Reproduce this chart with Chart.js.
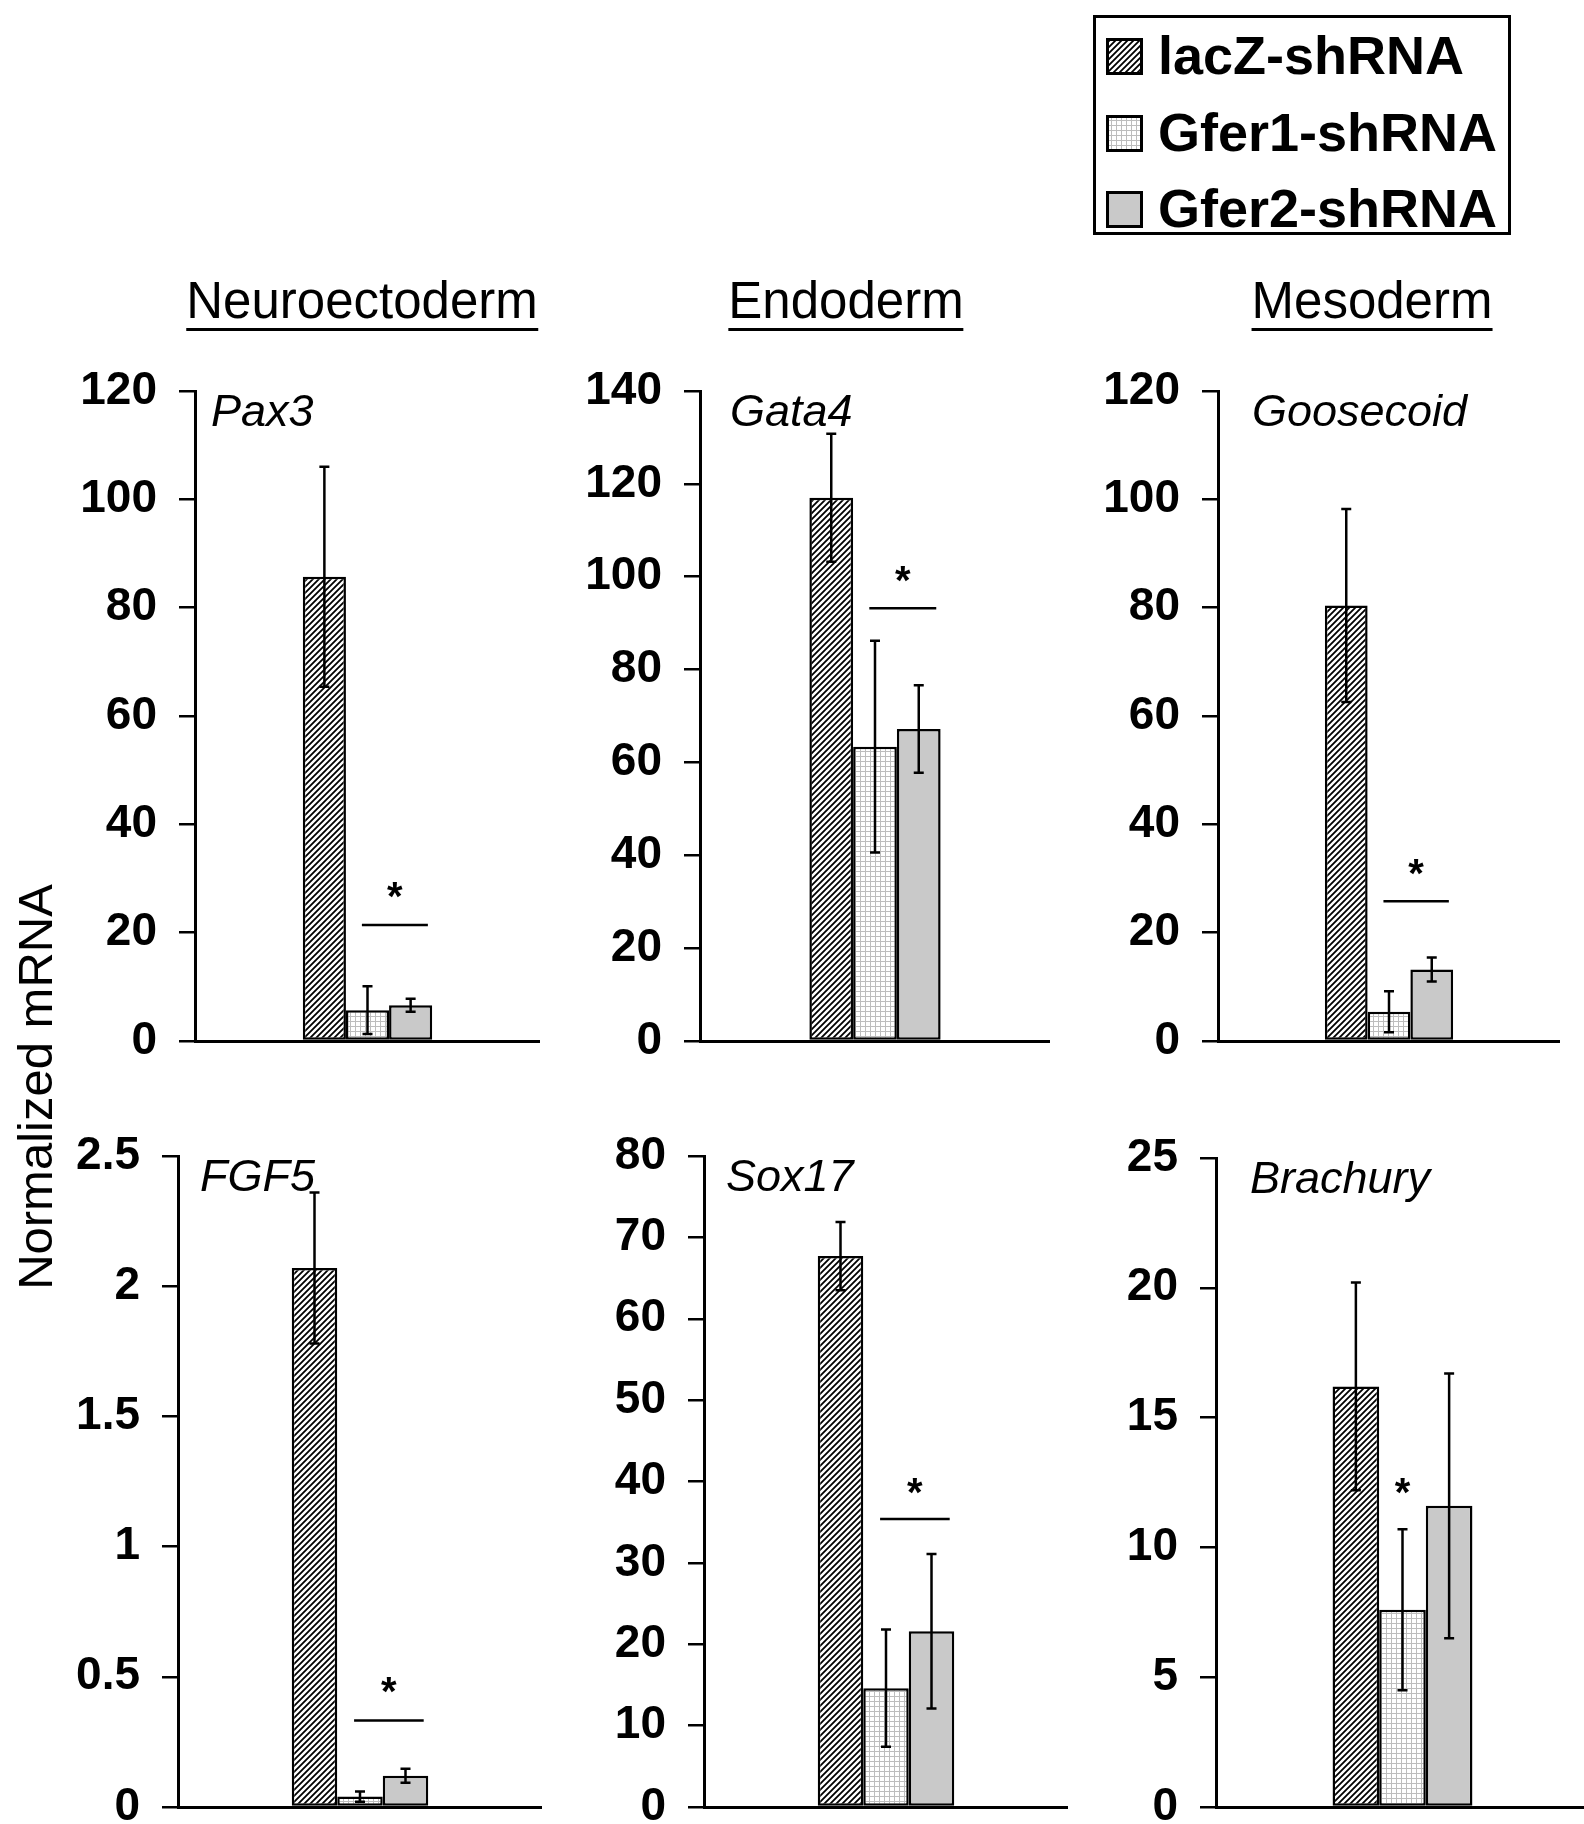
<!DOCTYPE html>
<html>
<head>
<meta charset="utf-8">
<script src="https://cdn.jsdelivr.net/npm/chart.js@4.4.0/dist/chart.umd.min.js"></script>
<style>
  html, body { margin: 0; padding: 0; background: #fff; overflow: hidden; }
  body { width: 1584px; height: 1824px; position: relative; font-family: "Liberation Sans", Arial, sans-serif; color: #000; }
  canvas.panel { position: absolute; }
  .col-title { position: absolute; font-size: 51px; line-height: 1; white-space: nowrap; transform: translateX(-50%); border-bottom: 3.5px solid #000; padding-bottom: 2px; }
  .ytitle { position: absolute; font-size: 49px; line-height: 1; white-space: nowrap; transform: translate(-50%, -50%) rotate(-90deg); }
  #legendBox { position: absolute; left: 1093px; top: 15px; width: 418px; height: 220px; box-sizing: border-box; border: 3px solid #000; }
  .leg-text { position: absolute; font-size: 54px; font-weight: bold; line-height: 1; white-space: nowrap; }
  .leg-swatch { position: absolute; }
</style>
</head>
<body>
<div id="legendBox"></div>
<div class="ytitle" style="left:35px; top:1087px;">Normalized mRNA</div>

<script>
const FONT = '"Liberation Sans", Arial, sans-serif';

// data
const series = ['lacZ-shRNA', 'Gfer1-shRNA', 'Gfer2-shRNA'];
const columns = ['Neuroectoderm', 'Endoderm', 'Mesoderm'];
const genes = ['Pax3', 'Gata4', 'Goosecoid', 'FGF5', 'Sox17', 'Brachury'];
const lacZ     = [85.7, 117.0, 80.4, 2.07, 67.7, 16.2];
const lacZErr  = [20.3, 13.8, 17.8, 0.29, 4.2, 4.0];
const gfer1    = [5.7, 63.4, 5.4, 0.04, 14.6, 7.6];
const gfer1Err = [4.4, 22.8, 3.8, 0.02, 7.2, 3.1];
const gfer2    = [6.6, 67.2, 13.2, 0.12, 21.6, 11.6];
const gfer2Err = [1.2, 9.4, 2.2, 0.027, 9.5, 5.1];
const yMax  = [120, 140, 120, 2.5, 80, 25];
const yStep = [20, 20, 20, 0.5, 10, 5];
const sigLine = [21.4, 93.2, 25.8, 0.332, 35.4, null];
const starAt  = [27.9, 100.5, 32.2, 0.47, 39.5, 12.35];

// panel placement: y-axis x, top tick y, zero y, right end of x-axis
const boxes = [
  [195, 391, 1041, 540], [700, 391, 1041, 1050], [1218, 391, 1041, 1560],
  [178, 1156, 1807, 542], [704, 1156, 1807, 1068], [1216, 1158, 1807, 1589]
];
const geneDx = [16, 30, 34, 22, 22, 34];
const titleX = [362, 846, 1372];

function makePattern(kind) {
  const s = kind === 'hatch' ? 6 : 5;
  const c = document.createElement('canvas');
  c.width = s; c.height = s;
  const g = c.getContext('2d');
  g.fillStyle = '#fff';
  g.fillRect(0, 0, s, s);
  if (kind === 'hatch') {
    g.strokeStyle = '#000';
    g.lineWidth = 1.8;
    g.beginPath();
    g.moveTo(-1, s + 1); g.lineTo(s + 1, -1);
    g.moveTo(-1, 1); g.lineTo(1, -1);
    g.moveTo(s - 1, s + 1); g.lineTo(s + 1, s - 1);
    g.stroke();
  } else {
    g.fillStyle = '#bdbdbd';
    g.fillRect(0, 0, s, 1);
    g.fillRect(0, 0, 1, s);
  }
  return g.createPattern(c, 'repeat');
}
const fills = [makePattern('hatch'), makePattern('grid'), '#c9c9c9'];

// error bars, significance line, star and gene name
const marks = {
  id: 'marks',
  afterDatasetsDraw(chart, args, opts) {
    const ctx = chart.ctx, y = chart.scales.y;
    const bars = chart.data.datasets.map((d, i) => chart.getDatasetMeta(i).data[0]);
    ctx.save();
    ctx.strokeStyle = '#000';
    ctx.fillStyle = '#000';
    ctx.lineWidth = 2.5;
    chart.data.datasets.forEach((d, i) => {
      const b = bars[i], v = d.data[0], e = d.errors[0];
      const y1 = y.getPixelForValue(v + e), y2 = y.getPixelForValue(v - e);
      ctx.beginPath();
      ctx.moveTo(b.x, y1); ctx.lineTo(b.x, y2);
      ctx.moveTo(b.x - 5, y1); ctx.lineTo(b.x + 5, y1);
      ctx.moveTo(b.x - 5, y2); ctx.lineTo(b.x + 5, y2);
      ctx.stroke();
    });
    let sx = bars[1].x;
    if (opts.line != null) {
      const x1 = bars[1].x - 0.13 * bars[1].width;
      const x2 = bars[2].x + 0.4 * bars[2].width;
      const ly = y.getPixelForValue(opts.line);
      ctx.beginPath();
      ctx.moveTo(x1, ly); ctx.lineTo(x2, ly);
      ctx.stroke();
      sx = (x1 + x2) / 2;
    }
    ctx.font = 'bold 40px ' + FONT;
    ctx.textAlign = 'center';
    ctx.textBaseline = 'alphabetic';
    const m = ctx.measureText('*');
    const cy = y.getPixelForValue(opts.star);
    ctx.fillText('*', sx, cy + (m.actualBoundingBoxAscent - m.actualBoundingBoxDescent) / 2);

    ctx.font = 'italic 45px ' + FONT;
    ctx.textAlign = 'left';
    ctx.fillText(opts.gene, chart.chartArea.left + opts.dx, chart.chartArea.top + 35);
    ctx.restore();
  }
};

const PT = 60, PB = 60, YW = 150;
genes.forEach((gene, i) => {
  const [ax, top, zero, right] = boxes[i];
  const cv = document.createElement('canvas');
  cv.className = 'panel';
  const w = right - ax + YW, h = zero - top + PT + PB;
  cv.width = w; cv.height = h;
  cv.style.left = (ax - YW) + 'px';
  cv.style.top = (top - PT) + 'px';
  cv.style.width = w + 'px';
  cv.style.height = h + 'px';
  document.body.appendChild(cv);

  new Chart(cv, {
    type: 'bar',
    data: {
      labels: [gene],
      datasets: [
        { label: series[0], data: [lacZ[i]], errors: [lacZErr[i]], backgroundColor: fills[0] },
        { label: series[1], data: [gfer1[i]], errors: [gfer1Err[i]], backgroundColor: fills[1] },
        { label: series[2], data: [gfer2[i]], errors: [gfer2Err[i]], backgroundColor: fills[2] }
      ]
    },
    options: {
      responsive: false,
      devicePixelRatio: 1,
      animation: false,
      layout: { padding: { top: PT, bottom: PB, left: 0, right: 0 } },
      datasets: {
        bar: { categoryPercentage: 0.375, barPercentage: 1, borderColor: '#000', borderWidth: 2.5, borderSkipped: false }
      },
      plugins: {
        legend: { display: false },
        tooltip: { enabled: false },
        marks: { line: sigLine[i], star: starAt[i], gene: gene, dx: geneDx[i] }
      },
      scales: {
        x: {
          grid: { display: false },
          ticks: { display: false },
          border: { display: true, color: '#000', width: 3 },
          afterFit(s) { s.height = 0; }
        },
        y: {
          min: 0,
          max: yMax[i],
          ticks: {
            stepSize: yStep[i],
            color: '#000',
            padding: 22,
            font: { family: FONT, size: 46, weight: 'bold' },
            callback: v => String(v)
          },
          grid: { drawOnChartArea: false, drawTicks: true, tickLength: 16, color: '#000', lineWidth: 2.5 },
          border: { display: true, color: '#000', width: 3 },
          afterFit(s) { s.width = YW; }
        }
      }
    },
    plugins: [marks]
  });
});

// column headings
columns.forEach((name, i) => {
  const d = document.createElement('div');
  d.className = 'col-title';
  d.textContent = name;
  d.style.left = titleX[i] + 'px';
  d.style.top = (318 - 43) + 'px';
  document.body.appendChild(d);
});

// legend
const legRows = [56, 133, 209];
const SW = 37;
series.forEach((name, i) => {
  const sw = document.createElement('canvas');
  sw.className = 'leg-swatch';
  sw.width = SW; sw.height = SW;
  sw.style.left = '1106px';
  sw.style.top = (legRows[i] - SW / 2) + 'px';
  const g = sw.getContext('2d');
  g.fillStyle = fills[i];
  g.fillRect(0, 0, SW, SW);
  g.strokeStyle = '#000';
  g.lineWidth = 3;
  g.strokeRect(1.5, 1.5, SW - 3, SW - 3);
  document.body.appendChild(sw);

  const t = document.createElement('div');
  t.className = 'leg-text';
  t.textContent = name;
  t.style.left = '1158px';
  t.style.top = (legRows[i] + 18 - 46) + 'px';
  document.body.appendChild(t);
});
</script>
</body>
</html>
